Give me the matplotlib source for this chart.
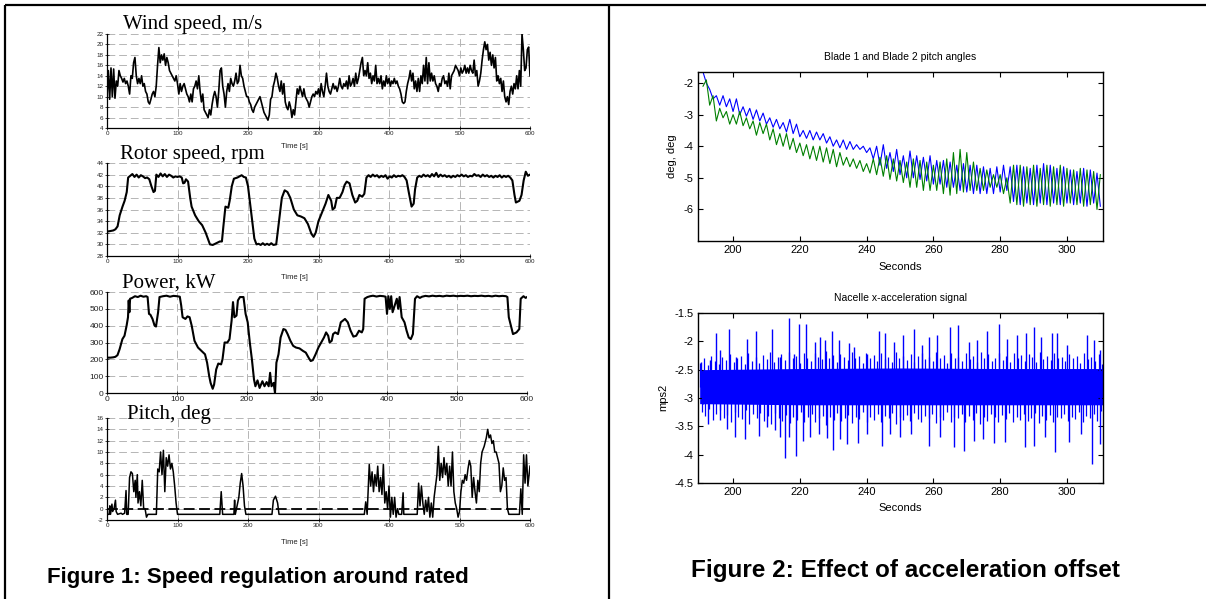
import numpy as np
import matplotlib
matplotlib.use('Agg')
import matplotlib.pyplot as plt
from matplotlib.lines import Line2D

# ---- Figure 1 data ----
wind_speed = [
    10, 15, 9.5, 15.5, 10, 15.3, 9.7, 13, 12, 15, 14, 13.5, 12.8, 13.5, 12.5,
    13, 12, 10.5, 14, 13.5, 16.5, 17.5, 14, 12.5, 13.5, 12.5, 14, 12, 12.5, 11,
    10.5, 9, 8.6, 9.5, 10.5, 11, 10, 12, 16, 19.4, 16.5, 18, 17, 18.2, 16,
    17.5, 16.5, 15, 14.5, 14, 13.5, 13, 14, 12.5, 10.5, 12.5, 11, 12, 12.5, 11.5,
    10.5, 10, 9, 10.5, 9, 11.5, 12, 13, 11.5, 14, 11, 9, 10.5, 7.5, 7,
    6.5, 6, 7.5, 6.5, 8.5, 10, 11, 10, 8, 11, 15, 15.5, 12, 10.5, 8,
    11, 12.5, 11, 13.5, 12.5, 12, 13, 14.5, 12.5, 13, 16, 14, 13.5, 12, 11,
    10, 10, 9, 8.5, 7.5, 7, 8, 8.5, 9, 9.5, 10, 9, 8, 7, 6.5,
    6, 5.5, 6.5, 9.5, 10, 12, 13, 14.5, 13.5, 12, 11, 13, 10.5, 12.5, 9,
    8, 7.5, 9, 8, 6, 7.5, 6.5, 9, 11.5, 10.5, 12, 11, 10, 11.5, 10,
    9.5, 9, 8, 9, 10, 10.5, 10, 11, 10.5, 11.5, 10, 12.5, 11, 10, 12,
    14.5, 12, 11, 10.5, 11.5, 12.5, 11.5, 12, 11, 12, 13.5, 12, 11.5, 12.5, 12,
    13, 11.5, 14, 12, 12.5, 13.5, 12, 14.5, 12.5, 13.5, 15, 16.5, 17.5, 14, 15,
    14, 16.5, 13.5, 14.5, 12.5, 14, 13, 16, 12.5, 13.5, 12.5, 14, 11.5, 13, 12,
    14, 12.5, 13.5, 12, 13, 12.5, 13.5, 12.5, 13, 12, 11.5, 10.5, 9, 8.7, 9,
    11, 12.5, 13.5, 15, 13, 14.5, 11.5, 13, 11, 13.5, 11, 14, 12.5, 16, 13,
    17.5, 12.5, 16.5, 13, 14.5, 13, 14, 12.5, 12, 11, 12.5, 12, 13.5, 14, 12.5,
    13, 12, 14.5, 11.5, 14, 14.5, 15, 16, 15.5, 15, 14, 15.5, 14.5, 15, 16,
    14.5, 15.5, 14.5, 16, 15, 14.5, 17, 14, 15, 12, 13, 14.5, 17, 19, 20.5,
    19, 20, 17, 18.5, 16, 18, 15.5, 17.5, 13, 14, 12.5, 13.5, 11, 13, 10,
    9, 10, 8.5, 11, 12, 10.5, 12.5, 11.5, 14, 11.5, 15, 12, 22, 19, 15,
    15.5, 19, 19.5, 14,
]

rotor_speed = [
    (0, 32.2), (5, 32.3), (9, 32.4), (12, 32.6), (15, 33.1), (18, 35), (22, 36.5),
    (25, 37.5), (28, 39), (30, 41.5), (33, 41.8), (36, 42.1), (39, 41.6), (42, 42.0),
    (45, 41.5), (48, 41.9), (51, 41.7), (54, 41.4), (57, 41.5), (60, 41.2), (63, 40),
    (66, 39), (68, 39.2), (70, 42), (73, 41.6), (76, 42.2), (79, 41.7), (82, 42.1),
    (85, 41.6), (88, 42.0), (91, 41.8), (94, 41.5), (97, 41.7), (100, 41.6),
    (103, 41.7), (106, 41.5), (108, 40.5), (110, 40.6), (112, 41.2), (115, 40.8),
    (118, 38), (120, 36.5), (125, 35), (130, 34), (135, 33.3), (140, 32), (143, 31),
    (146, 30), (150, 29.9), (155, 30.2), (160, 30.5), (163, 30.5), (165, 33),
    (168, 36.5), (172, 36.3), (174, 37.5), (177, 40), (180, 41.3), (185, 41.5),
    (188, 41.7), (191, 41.9), (194, 41.6), (197, 41.5), (200, 40), (203, 37),
    (206, 34), (209, 31), (212, 30), (215, 30.1), (218, 29.9), (221, 30.2),
    (224, 29.9), (227, 30.1), (230, 29.9), (233, 30.2), (236, 29.9), (240, 30),
    (242, 32), (245, 35), (248, 38), (252, 39.3), (256, 39), (260, 38), (265, 36),
    (270, 35), (275, 34.8), (280, 34.5), (285, 33.5), (290, 31.8), (293, 31.3),
    (296, 32), (300, 34), (305, 35.5), (310, 37), (314, 38.5), (318, 37.5),
    (320, 36), (323, 36.3), (326, 38), (330, 38), (334, 39), (337, 40.2),
    (340, 40.8), (344, 40.5), (348, 38.5), (352, 37.2), (355, 37.5), (358, 38.5),
    (362, 38.2), (365, 38.7), (368, 41.5), (371, 41.9), (374, 41.6), (377, 42.0),
    (380, 41.7), (383, 41.9), (386, 41.5), (389, 41.8), (392, 41.6), (395, 41.9),
    (398, 41.3), (401, 41.7), (404, 41.5), (407, 41.9), (410, 41.6), (413, 41.8),
    (416, 41.7), (419, 41.9), (422, 41.6), (425, 41), (428, 39), (432, 36.5),
    (435, 37), (437, 39.5), (440, 41.5), (443, 41.8), (446, 41.6), (449, 42.0),
    (452, 41.7), (455, 41.9), (458, 41.6), (461, 42.1), (464, 41.7), (467, 42.3),
    (470, 41.6), (473, 42.0), (476, 41.7), (479, 41.9), (482, 41.6), (485, 41.8),
    (488, 41.5), (491, 41.8), (494, 41.6), (497, 41.9), (500, 41.7), (503, 42.0),
    (506, 41.7), (509, 41.9), (512, 41.6), (515, 41.8), (518, 41.7), (521, 42.1),
    (524, 41.8), (527, 41.9), (530, 41.6), (533, 42.0), (536, 41.7), (539, 41.9),
    (542, 41.6), (545, 41.8), (548, 41.5), (551, 41.8), (554, 41.6), (557, 41.9),
    (560, 41.5), (563, 41.8), (566, 41.6), (569, 41.8), (572, 41.5), (575, 41),
    (578, 38.5), (580, 37.2), (585, 37.5), (588, 38.5), (591, 41), (594, 42.5),
    (597, 41.8), (600, 42),
]

power_kw = [
    (0, 210), (5, 210), (9, 212), (12, 215), (15, 225), (18, 260), (22, 320),
    (25, 340), (28, 400), (30, 450), (31, 550), (32, 480), (33, 560), (36, 565),
    (40, 575), (44, 570), (48, 578), (52, 572), (56, 575), (58, 570), (60, 470),
    (62, 465), (65, 440), (68, 400), (70, 395), (73, 480), (75, 570), (80, 575),
    (85, 578), (90, 572), (95, 577), (100, 575), (104, 572), (106, 520), (108, 450),
    (112, 440), (115, 455), (118, 450), (121, 400), (125, 310), (130, 270),
    (135, 250), (140, 230), (143, 180), (146, 100), (148, 60), (151, 25), (153, 50),
    (156, 140), (159, 175), (163, 170), (165, 200), (168, 300), (172, 300),
    (175, 320), (178, 430), (180, 540), (182, 450), (185, 460), (187, 550),
    (190, 570), (195, 570), (198, 470), (201, 420), (204, 300), (207, 200),
    (210, 80), (212, 40), (215, 75), (218, 30), (222, 70), (225, 40), (228, 65),
    (231, 40), (233, 120), (235, 40), (238, 60), (240, 0), (242, 180), (245, 230),
    (248, 330), (252, 380), (255, 375), (258, 350), (262, 310), (266, 280),
    (270, 270), (275, 265), (280, 250), (284, 240), (288, 210), (291, 190),
    (294, 195), (298, 230), (302, 270), (306, 300), (310, 330), (313, 360),
    (316, 340), (318, 300), (321, 310), (323, 350), (326, 360), (330, 350),
    (334, 420), (337, 430), (340, 440), (344, 420), (348, 370), (352, 335),
    (356, 340), (360, 370), (364, 360), (366, 380), (368, 560), (372, 570),
    (376, 575), (380, 578), (385, 573), (390, 577), (395, 575), (398, 572),
    (400, 470), (402, 575), (404, 500), (406, 575), (408, 480), (411, 520),
    (414, 560), (416, 500), (418, 570), (421, 450), (425, 420), (428, 370),
    (431, 330), (434, 320), (437, 350), (440, 560), (443, 575), (447, 565),
    (450, 572), (455, 577), (460, 574), (465, 578), (470, 575), (475, 577),
    (480, 574), (485, 578), (490, 576), (495, 578), (500, 575), (505, 577),
    (510, 576), (515, 578), (520, 575), (525, 577), (530, 576), (535, 578),
    (540, 575), (545, 577), (550, 574), (555, 578), (560, 575), (565, 577),
    (570, 575), (572, 570), (574, 450), (577, 400), (580, 350), (585, 360),
    (589, 380), (591, 560), (595, 575), (598, 565), (600, 570),
]

pitch_deg = [
    (0, -1), (3, -1), (4, 0.5), (5, -1), (7, 0.8), (8, -0.5), (10, 0), (12, 1.5),
    (13, -0.5), (15, -1), (20, -0.8), (22, -1), (25, -0.8), (27, 3.2), (28, -1),
    (30, -1), (32, 5.5), (34, 6.5), (36, 6.2), (38, 3), (40, 5), (41, 2), (43, 6),
    (44, 1), (46, 3), (48, 0.5), (50, 5), (52, 0), (54, 0), (56, -1.5), (58, -1),
    (70, -1), (72, 7), (74, 6.5), (76, 10), (78, 6), (80, 10.3), (82, 3), (84, 9),
    (86, 7.5), (88, 9.5), (90, 7), (92, 8), (94, 6.5), (96, 4), (98, 1), (100, -1),
    (160, -1), (162, 3), (164, -1), (180, -1), (181, 1.5), (182, -1), (187, 2),
    (189, 4.5), (191, 6.2), (193, 4), (195, 0.5), (197, -1), (234, -1), (236, 1.5),
    (239, 2.2), (242, 1), (244, -1), (365, -1), (367, 1.2), (369, -1), (372, 7.8),
    (374, 4), (376, 6.5), (378, 3), (380, 6), (382, 4), (384, 7.5), (386, 3),
    (388, 5.5), (390, 2.5), (392, 7.8), (394, 1), (396, 3), (398, 0), (400, 4),
    (402, -1.5), (404, 2), (406, -1), (408, 2), (410, -1.5), (412, 0), (414, -1),
    (418, -1), (420, 2.8), (421, -1), (440, -1), (442, 4.5), (444, 0.5), (446, 4),
    (448, 1), (450, -1), (452, 1.5), (454, -0.5), (456, 2), (458, -1.5), (460, 1),
    (462, -1.5), (464, 2), (466, 4), (468, 6), (470, 11), (472, 5), (474, 8),
    (476, 5.5), (478, 9), (480, 6), (482, 8), (484, 4), (486, 7.5), (488, 4),
    (490, 10), (492, 3), (494, 1), (496, 0), (498, -1.5), (500, -0.5), (502, 3),
    (504, 5), (506, 4.5), (508, 6), (510, 5), (512, 7), (514, 8.5), (516, 7.5),
    (518, 2), (520, 5.5), (522, 3), (524, 1), (526, 5), (528, 3), (530, 8),
    (532, 10), (535, 11), (538, 12.5), (540, 14), (542, 12.5), (544, 13),
    (546, 11.5), (548, 12), (550, 10), (552, 10), (554, 9), (556, 8), (558, 3),
    (560, 4), (562, 7.2), (564, 5), (566, 5.5), (568, 0), (570, -1), (585, -1),
    (587, 3.5), (589, -1), (591, 9.5), (593, 4.5), (595, 9.5), (597, 4), (600, 7.5),
]

# ---- Figure 2 data ----
# blade pitch, alternating crest / trough roughly every second from 191 s to 310 s
blade1 = [
    -1.65, -2.0, -2.2, -2.5, -2.4, -2.7, -2.4, -2.75, -2.5, -2.9, -2.5, -3.0,
    -2.75, -3.05, -2.8, -3.15, -2.85, -3.2, -2.95, -3.3, -3.1, -3.4, -3.15, -3.45,
    -3.25, -3.55, -3.15, -3.6, -3.3, -3.7, -3.5, -3.75, -3.5, -3.8, -3.55, -3.8,
    -3.6, -3.9, -3.7, -4.0, -3.8, -4.05, -3.8, -4.1, -3.85, -4.1, -3.95, -4.1,
    -4.0, -4.2, -4.05, -4.4, -4.0, -4.6, -3.95, -4.7, -4.2, -4.8, -4.1, -4.9,
    -4.3, -5.0, -4.15, -5.0, -4.3, -5.05, -4.35, -5.1, -4.3, -5.2, -4.45, -5.2,
    -4.45, -5.3, -4.5, -5.3, -4.6, -5.4, -4.55, -5.45, -4.6, -5.5, -4.6, -5.5,
    -4.65, -5.5, -4.7, -5.5, -4.65, -5.45, -4.6, -5.4, -4.65, -5.75, -4.6, -5.85,
    -4.65, -5.8, -4.7, -5.85, -4.6, -5.8, -4.55, -5.85, -4.6, -5.8, -4.7, -5.85,
    -4.65, -5.8, -4.75, -5.85, -4.8, -5.8, -4.7, -5.9, -4.75, -5.8, -4.85, -5.9,
]
blade2 = [
    -2.1, -1.9, -2.7, -2.4, -3.2, -2.8, -3.1, -2.9, -3.3, -3.0, -3.3, -2.9,
    -3.35, -3.1, -3.45, -3.2, -3.65, -3.25, -3.6, -3.3, -3.8, -3.45, -3.95, -3.6,
    -4.0, -3.6, -4.1, -3.75, -4.2, -3.9, -4.3, -3.95, -4.4, -4.0, -4.45, -4.0,
    -4.5, -4.05, -4.55, -4.1, -4.65, -4.2, -4.6, -4.35, -4.65, -4.4, -4.7, -4.45,
    -4.8, -4.55, -4.85, -4.4, -4.9, -4.35, -4.95, -4.3, -5.05, -4.4, -5.1, -4.45,
    -5.15, -4.5, -5.3, -4.4, -5.3, -4.45, -5.4, -4.5, -5.4, -4.6, -5.4, -4.5,
    -5.5, -4.4, -5.55, -4.2, -5.5, -4.1, -5.45, -4.2, -5.4, -4.5, -5.4, -4.7,
    -5.4, -4.75, -5.3, -4.9, -5.3, -4.9, -5.5, -5.0, -5.8, -4.6, -5.85, -4.6,
    -5.9, -4.65, -5.85, -4.6, -5.9, -4.7, -5.85, -4.6, -5.9, -4.65, -5.85, -4.6,
    -5.9, -4.7, -5.8, -4.75, -5.85, -4.7, -5.9, -4.75, -5.85, -4.8, -6.0, -4.9,
]

# nacelle acceleration: dense core band, the fuzz around it, and the big spikes
acc_band_t = [190, 220, 250, 280, 311]
acc_band_hi = [-2.5, -2.48, -2.47, -2.48, -2.48]
acc_band_lo = [-3.1, -3.12, -3.12, -3.12, -3.12]
acc_fuzz_hi = [
    -2.38, -2.3, -2.42, -2.25, -2.35, -2.4, -2.28, -2.33, -2.22, -2.37,
    -2.3, -2.26, -2.4, -2.2, -2.34, -2.28, -2.38, -2.24, -2.31, -2.18,
    -2.36, -2.27, -2.22, -2.33, -2.19, -2.3, -2.25, -2.39, -2.21, -2.29,
    -2.35, -2.2, -2.27, -2.32, -2.17, -2.3, -2.24, -2.36, -2.22, -2.28,
    -2.33, -2.19, -2.3, -2.26, -2.38, -2.21, -2.29, -2.24, -2.34, -2.2,
    -2.31, -2.27, -2.36, -2.18, -2.3, -2.25, -2.33, -2.22, -2.37, -2.26,
    -2.2, -2.31, -2.28, -2.35, -2.19, -2.29, -2.24, -2.38, -2.21, -2.3,
    -2.27, -2.34, -2.2, -2.32, -2.25, -2.36, -2.18, -2.29, -2.23, -2.35,
    -2.3, -2.21, -2.33, -2.26, -2.37, -2.2, -2.3, -2.24, -2.34, -2.22,
    -2.28, -2.36, -2.19, -2.31, -2.25, -2.33, -2.21, -2.3, -2.27, -2.35,
    -2.22, -2.3, -2.26, -2.38, -2.2, -2.32, -2.27, -2.35, -2.23, -2.4,
]
acc_fuzz_lo = [
    -3.25, -3.32, -3.2, -3.38, -3.28, -3.22, -3.35, -3.3, -3.42, -3.24,
    -3.33, -3.37, -3.22, -3.45, -3.29, -3.35, -3.26, -3.4, -3.31, -3.46,
    -3.27, -3.36, -3.41, -3.3, -3.44, -3.33, -3.38, -3.24, -3.43, -3.34,
    -3.28, -3.42, -3.36, -3.31, -3.47, -3.33, -3.39, -3.27, -3.41, -3.35,
    -3.3, -3.44, -3.33, -3.37, -3.25, -3.42, -3.34, -3.39, -3.29, -3.43,
    -3.32, -3.36, -3.27, -3.45, -3.33, -3.38, -3.3, -3.41, -3.26, -3.37,
    -3.43, -3.32, -3.35, -3.28, -3.44, -3.34, -3.39, -3.25, -3.42, -3.33,
    -3.36, -3.29, -3.43, -3.31, -3.38, -3.27, -3.45, -3.34, -3.4, -3.28,
    -3.33, -3.42, -3.3, -3.37, -3.26, -3.43, -3.33, -3.39, -3.29, -3.41,
    -3.35, -3.27, -3.44, -3.32, -3.38, -3.3, -3.42, -3.33, -3.36, -3.28,
    -3.41, -3.33, -3.37, -3.25, -3.43, -3.31, -3.36, -3.28, -3.4, -3.23,
]
acc_spikes_up = [
    (190.4, -2.36), (193.2, -2.33), (195.0, -1.86), (196.2, -2.16), (198.9, -1.79),
    (200.9, -2.28), (204.2, -1.95), (206.9, -1.81), (211.7, -1.79), (214.0, -2.28),
    (216.9, -1.59), (218.2, -2.22), (219.7, -1.69), (221.9, -1.70), (224.5, -2.01),
    (226.1, -1.92), (227.5, -1.98), (229.5, -1.81), (231.6, -1.97), (234.7, -2.03),
    (236.1, -2.10), (240.1, -2.22), (243.8, -1.81), (245.6, -1.86), (248.1, -2.01),
    (250.9, -1.89), (254.1, -1.79), (256.6, -2.07), (258.6, -1.92), (261.1, -1.89),
    (265.1, -1.75), (267.4, -1.72), (270.6, -2.01), (273.1, -1.98), (276.0, -1.81),
    (279.7, -1.69), (282.0, -1.95), (285.0, -1.89), (287.7, -1.85), (290.0, -1.75),
    (292.2, -1.92), (295.5, -1.85), (297.0, -1.85), (300.0, -2.07), (306.0, -1.89),
    (308.0, -1.98), (310.0, -2.15),
]
acc_spikes_down = [
    (191.0, -3.10), (192.4, -3.45), (196.2, -3.39), (198.2, -3.54), (200.7, -3.69),
    (203.7, -3.72), (207.7, -3.67), (210.2, -3.51), (212.7, -3.57), (214.0, -3.69),
    (215.5, -4.06), (216.7, -3.69), (218.9, -4.03), (220.9, -3.75), (223.0, -3.69),
    (225.6, -3.64), (228.1, -3.70), (229.9, -3.91), (232.1, -3.72), (234.1, -3.81),
    (237.3, -3.79), (240.1, -3.63), (244.6, -3.84), (247.1, -3.63), (249.9, -3.69),
    (253.3, -3.63), (258.6, -3.85), (262.1, -3.69), (266.1, -3.86), (269.1, -3.94),
    (272.1, -3.75), (275.0, -3.72), (278.2, -3.79), (281.5, -3.78), (287.3, -3.86),
    (290.0, -3.85), (293.5, -3.69), (296.5, -3.95), (300.5, -3.78), (304.2, -3.63),
    (307.6, -4.16), (310.0, -3.81),
]

W, H = 1206, 599
plt.rcParams['font.family'] = ['Liberation Sans', 'DejaVu Sans']
plt.rcParams['axes.unicode_minus'] = False

fig = plt.figure(figsize=(W / 100, H / 100), dpi=100)


def px_axes(left, top, right, bottom):
    return fig.add_axes([left / W, 1 - bottom / H, (right - left) / W, (bottom - top) / H])


def px_text(x, y, s, **kw):
    kw.setdefault('ha', 'center')
    kw.setdefault('va', 'center')
    fig.text(x / W, 1 - y / H, s, **kw)


def style_left(ax, ylim, yticks, size=4.5):
    ax.set_xlim(0, 600)
    ax.set_ylim(*ylim)
    ax.set_xticks(range(0, 601, 100))
    ax.set_yticks(yticks)
    ax.grid(True, color='#b5b5b5', linestyle=(0, (8, 4)), linewidth=0.7)
    ax.set_axisbelow(True)
    for s in ('top', 'right'):
        ax.spines[s].set_visible(False)
    for s in ('left', 'bottom'):
        ax.spines[s].set_linewidth(0.9)
    ax.tick_params(direction='inout', length=3, width=0.6, labelsize=size,
                   colors='#222222', pad=1)


# ---- left panel ----
ax = px_axes(107, 34, 530, 128)
ax.plot(np.linspace(0, 600, len(wind_speed)), wind_speed, color='k', lw=1.2)
style_left(ax, (4, 22), range(4, 23, 2))

ax = px_axes(107, 163, 530, 256)
t, v = zip(*rotor_speed)
ax.plot(t, v, color='k', lw=1.5)
style_left(ax, (28, 44), range(28, 45, 2))

ax = px_axes(107, 292, 527, 393)
t, v = zip(*power_kw)
ax.plot(t, v, color='k', lw=1.5)
style_left(ax, (0, 600), range(0, 601, 100), size=6)

ax = px_axes(107, 418, 530, 520)
t, v = zip(*pitch_deg)
ax.plot(t, v, color='k', lw=1.1)
ax.axhline(0, color='k', lw=1.3, linestyle=(0, (6, 2.5)))
style_left(ax, (-2, 16), range(-2, 17, 2))

serif = dict(family=['Liberation Serif', 'DejaVu Serif'], fontsize=15, ha='left')
px_text(123, 25, 'Wind speed, m/s', **serif)
px_text(120, 154, 'Rotor speed, rpm', **serif)
px_text(122, 283, 'Power, kW', **serif)
px_text(127, 414, 'Pitch, deg', **serif)
for y in (146, 278, 543):
    px_text(294, y, 'Time [s]', fontsize=5.5, color='#222222')


# ---- right panel ----
def style_right(ax):
    ax.tick_params(direction='in', length=3.5, width=0.8, labelsize=8,
                   top=True, right=True, pad=3)
    for s in ax.spines.values():
        s.set_linewidth(1.0)
    ax.set_xticks(range(200, 301, 20))
    ax.set_xlim(189.5, 310.8)


ax = px_axes(698, 72, 1103, 241)
ax.plot(np.linspace(191, 310, len(blade1)), blade1, color='#0000ff', lw=0.8)
ax.plot(np.linspace(191, 310, len(blade2)), blade2, color='#008000', lw=0.8)
ax.set_ylim(-7.0, -1.65)
ax.set_yticks([-2, -3, -4, -5, -6])
style_right(ax)
px_text(900, 57, 'Blade 1 and Blade 2 pitch angles', fontsize=7.5)
px_text(900, 267, 'Seconds', fontsize=8)
px_text(672, 156, 'deg, deg', fontsize=8, rotation=90)

ax = px_axes(698, 313, 1103, 483)
blue = '#0000ff'
ax.fill_between(acc_band_t, acc_band_lo, acc_band_hi, color=blue, lw=0)
mid = -2.8
ax.vlines(np.linspace(190.2, 310.6, len(acc_fuzz_hi)), mid, acc_fuzz_hi, color=blue, lw=0.9)
ax.vlines(np.linspace(190.6, 310.2, len(acc_fuzz_lo)), mid, acc_fuzz_lo, color=blue, lw=0.9)
ut, uv = zip(*acc_spikes_up)
ax.vlines(ut, mid, uv, color=blue, lw=1.0)
dt, dv = zip(*acc_spikes_down)
ax.vlines(dt, mid, dv, color=blue, lw=1.0)
ax.set_ylim(-4.5, -1.5)
ax.set_yticks([-4.5, -4, -3.5, -3, -2.5, -2, -1.5])
ax.set_yticklabels(['-4.5', '-4', '-3.5', '-3', '-2.5', '-2', '-1.5'])
style_right(ax)
px_text(900, 298, 'Nacelle x-acceleration signal', fontsize=7.5)
px_text(900, 508, 'Seconds', fontsize=8)
px_text(663, 397, 'mps2', fontsize=8, rotation=90)

# ---- table frame and captions ----
frame = dict(color='k', lw=1.6, transform=fig.transFigure, solid_capstyle='butt')
fig.add_artist(Line2D([5 / W, 1], [1 - 5 / H] * 2, **frame))
fig.add_artist(Line2D([5 / W] * 2, [0, 1 - 5 / H], **frame))
fig.add_artist(Line2D([609 / W] * 2, [0, 1 - 5 / H], **frame))

px_text(258, 578, 'Figure 1: Speed regulation around rated', fontsize=16, fontweight='bold')
px_text(905, 570, 'Figure 2: Effect of acceleration offset', fontsize=17.5, fontweight='bold')

fig.savefig('out.png', dpi=100)
